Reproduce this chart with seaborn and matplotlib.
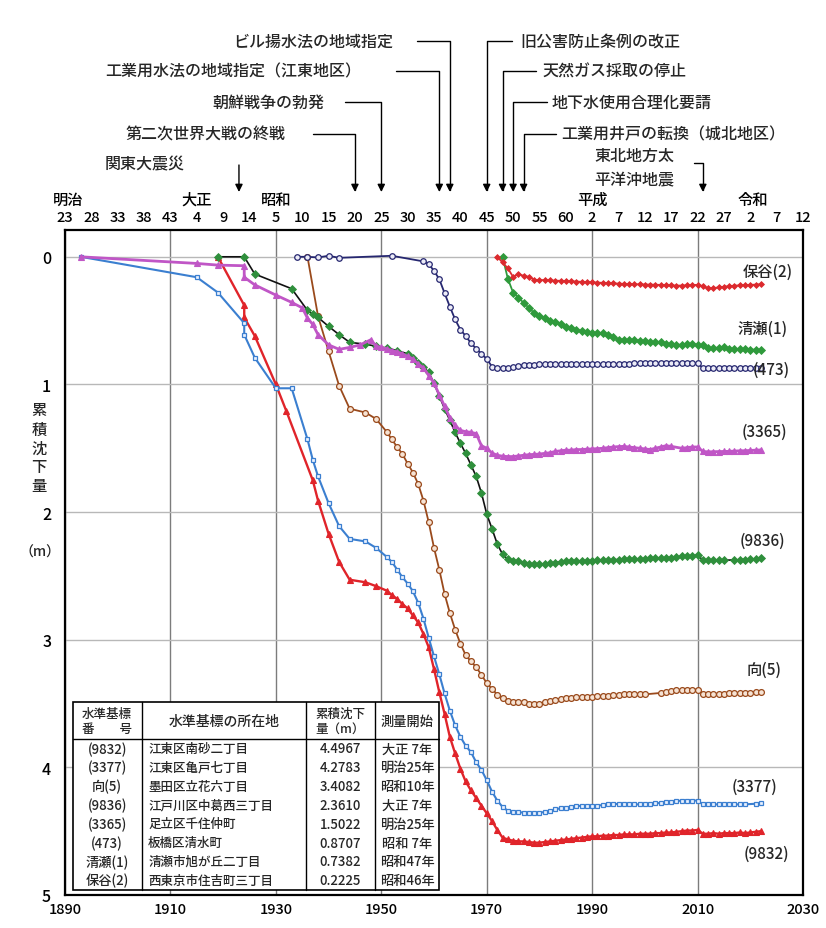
import matplotlib
matplotlib.use('Agg')
import matplotlib.pyplot as plt
import matplotlib.transforms as mtransforms
from matplotlib.lines import Line2D
from matplotlib.patches import Rectangle
import seaborn as sns

# ---------------- data ----------------
yr_9832 = [1919, 1924, 1924, 1926, 1930, 1932, 1937, 1938, 1940, 1942, 1944, 1947, 1949, 1951, 1952,
           1953, 1954, 1955, 1956, 1957, 1958, 1959, 1960, 1961, 1962, 1963, 1964, 1965, 1966, 1967,
           1968, 1969, 1970, 1971, 1972, 1973, 1974, 1975, 1976, 1977, 1978, 1979, 1980, 1981, 1982,
           1983, 1984, 1985, 1986, 1987, 1988, 1989, 1990, 1991, 1992, 1993, 1994, 1995, 1996, 1997,
           1998, 1999, 2000, 2001, 2002, 2003, 2004, 2005, 2006, 2007, 2008, 2009, 2010, 2011, 2012,
           2013, 2014, 2015, 2016, 2017, 2018, 2019, 2020, 2021, 2022]
val_9832 = [0.00, 0.38, 0.475, 0.62, 1.00, 1.21, 1.75, 1.91, 2.17, 2.39, 2.53, 2.55, 2.58, 2.615, 2.65,
            2.68, 2.72, 2.755, 2.81, 2.865, 2.955, 3.06, 3.23, 3.41, 3.58, 3.76, 3.89, 4.01, 4.11, 4.18,
            4.24, 4.30, 4.36, 4.42, 4.49, 4.55, 4.565, 4.575, 4.58, 4.58, 4.585, 4.59, 4.59, 4.585, 4.58,
            4.575, 4.57, 4.565, 4.56, 4.555, 4.55, 4.545, 4.54, 4.54, 4.535, 4.535, 4.53, 4.53, 4.525, 4.525,
            4.525, 4.52, 4.52, 4.52, 4.515, 4.515, 4.51, 4.51, 4.505, 4.50, 4.495, 4.495, 4.49, 4.52, 4.52,
            4.515, 4.52, 4.515, 4.515, 4.515, 4.51, 4.515, 4.51, 4.505, 4.50]

yr_3377 = [1893, 1915, 1919, 1924, 1924, 1926, 1930, 1933, 1936, 1937, 1938, 1940, 1942, 1944, 1947,
           1949, 1951, 1952, 1953, 1954, 1955, 1956, 1957, 1958, 1959, 1960, 1961, 1962, 1963, 1964,
           1965, 1966, 1967, 1968, 1969, 1970, 1971, 1972, 1973, 1974, 1975, 1976, 1977, 1978, 1979,
           1980, 1981, 1982, 1983, 1984, 1985, 1986, 1987, 1988, 1989, 1990, 1991, 1992, 1993, 1994,
           1995, 1996, 1997, 1998, 1999, 2000, 2001, 2002, 2003, 2004, 2005, 2006, 2007, 2008, 2009,
           2010, 2011, 2012, 2013, 2014, 2015, 2016, 2017, 2018, 2019, 2021, 2022]
val_3377 = [0.00, 0.16, 0.28, 0.52, 0.61, 0.79, 1.03, 1.03, 1.43, 1.59, 1.72, 1.93, 2.11, 2.21, 2.23,
            2.28, 2.35, 2.39, 2.45, 2.51, 2.56, 2.62, 2.71, 2.835, 2.985, 3.13, 3.27, 3.42, 3.555, 3.67,
            3.76, 3.83, 3.88, 3.96, 4.02, 4.10, 4.19, 4.26, 4.31, 4.34, 4.35, 4.35, 4.355, 4.36, 4.36,
            4.355, 4.35, 4.34, 4.33, 4.32, 4.315, 4.31, 4.305, 4.30, 4.30, 4.30, 4.30, 4.295, 4.29, 4.29,
            4.285, 4.285, 4.29, 4.29, 4.29, 4.29, 4.285, 4.28, 4.28, 4.275, 4.27, 4.265, 4.26, 4.26, 4.26,
            4.26, 4.29, 4.29, 4.29, 4.29, 4.29, 4.29, 4.29, 4.29, 4.29, 4.285, 4.278]

yr_m5 = [1936, 1938, 1940, 1942, 1944, 1947, 1949, 1951, 1952, 1953, 1954, 1955, 1956, 1957, 1958,
         1959, 1960, 1961, 1962, 1963, 1964, 1965, 1966, 1967, 1968, 1969, 1970, 1971, 1972, 1973,
         1974, 1975, 1976, 1977, 1978, 1979, 1980, 1981, 1982, 1983, 1984, 1985, 1986, 1987, 1988,
         1989, 1990, 1991, 1992, 1993, 1994, 1995, 1996, 1997, 1998, 1999, 2000, 2003, 2004, 2005,
         2006, 2007, 2008, 2009, 2010, 2011, 2012, 2013, 2014, 2015, 2016, 2017, 2018, 2019, 2020,
         2021, 2022]
val_m5 = [0.00, 0.465, 0.74, 1.01, 1.19, 1.22, 1.27, 1.37, 1.43, 1.49, 1.545, 1.62, 1.69, 1.78, 1.91,
          2.08, 2.28, 2.45, 2.64, 2.79, 2.92, 3.03, 3.12, 3.17, 3.215, 3.275, 3.34, 3.385, 3.43, 3.455,
          3.477, 3.485, 3.487, 3.49, 3.50, 3.503, 3.50, 3.49, 3.48, 3.47, 3.465, 3.46, 3.456, 3.452, 3.45,
          3.447, 3.445, 3.44, 3.44, 3.437, 3.433, 3.43, 3.428, 3.427, 3.427, 3.428, 3.428, 3.417, 3.41, 3.403,
          3.397, 3.393, 3.39, 3.39, 3.39, 3.423, 3.424, 3.424, 3.423, 3.423, 3.421, 3.42, 3.419, 3.418, 3.415,
          3.412, 3.41]

yr_9836 = [1919, 1924, 1926, 1933, 1936, 1937, 1938, 1940, 1942, 1944, 1947, 1949, 1951, 1953, 1955,
           1956, 1957, 1958, 1959, 1960, 1961, 1962, 1963, 1964, 1965, 1966, 1967, 1968, 1969, 1970,
           1971, 1972, 1973, 1974, 1975, 1976, 1977, 1978, 1979, 1980, 1981, 1982, 1983, 1984, 1985,
           1986, 1987, 1988, 1989, 1990, 1991, 1992, 1993, 1994, 1995, 1996, 1997, 1998, 1999, 2000,
           2001, 2002, 2003, 2004, 2005, 2006, 2007, 2008, 2009, 2010, 2011, 2012, 2013, 2014, 2015,
           2017, 2018, 2019, 2020, 2021, 2022]
val_9836 = [0.00, 0.00, 0.135, 0.25, 0.42, 0.45, 0.475, 0.545, 0.61, 0.67, 0.685, 0.70, 0.715, 0.735, 0.76,
            0.79, 0.83, 0.865, 0.905, 0.99, 1.09, 1.19, 1.28, 1.375, 1.46, 1.54, 1.63, 1.72, 1.85, 2.015,
            2.13, 2.25, 2.33, 2.37, 2.38, 2.385, 2.395, 2.405, 2.41, 2.41, 2.405, 2.40, 2.395, 2.39, 2.387,
            2.385, 2.385, 2.383, 2.38, 2.38, 2.378, 2.377, 2.375, 2.374, 2.372, 2.37, 2.37, 2.368, 2.366, 2.365,
            2.363, 2.362, 2.36, 2.358, 2.356, 2.352, 2.347, 2.344, 2.342, 2.338, 2.375, 2.378, 2.377, 2.377, 2.377,
            2.375, 2.373, 2.372, 2.37, 2.368, 2.36]

yr_3365 = [1893, 1915, 1919, 1924, 1924, 1926, 1930, 1933, 1935, 1936, 1937, 1938, 1940, 1942, 1944,
           1946, 1948, 1949, 1950, 1951, 1952, 1953, 1954, 1955, 1956, 1957, 1958, 1959, 1960, 1961,
           1962, 1963, 1964, 1965, 1966, 1967, 1968, 1969, 1970, 1971, 1972, 1973, 1974, 1975, 1976,
           1977, 1978, 1979, 1980, 1981, 1982, 1983, 1984, 1985, 1986, 1987, 1988, 1989, 1990, 1991,
           1992, 1993, 1994, 1995, 1996, 1997, 1998, 1999, 2000, 2001, 2002, 2003, 2004, 2005, 2007,
           2008, 2009, 2010, 2011, 2012, 2013, 2014, 2015, 2016, 2017, 2018, 2019, 2020, 2021, 2022]
val_3365 = [0.00, 0.052, 0.065, 0.07, 0.16, 0.22, 0.30, 0.357, 0.40, 0.48, 0.53, 0.61, 0.69, 0.725, 0.71,
            0.69, 0.65, 0.70, 0.71, 0.72, 0.735, 0.745, 0.76, 0.78, 0.80, 0.84, 0.87, 0.93, 0.99, 1.08,
            1.17, 1.26, 1.32, 1.36, 1.37, 1.375, 1.385, 1.48, 1.50, 1.537, 1.555, 1.562, 1.565, 1.565, 1.56,
            1.555, 1.55, 1.548, 1.545, 1.54, 1.535, 1.525, 1.52, 1.515, 1.515, 1.51, 1.51, 1.507, 1.505, 1.503,
            1.50, 1.495, 1.49, 1.487, 1.485, 1.49, 1.495, 1.50, 1.505, 1.51, 1.50, 1.49, 1.48, 1.485, 1.50,
            1.495, 1.49, 1.49, 1.525, 1.528, 1.527, 1.526, 1.525, 1.524, 1.522, 1.52, 1.519, 1.517, 1.515, 1.513]

yr_473 = [1934, 1936, 1938, 1940, 1942, 1952, 1958, 1959, 1960, 1961, 1962, 1963, 1964, 1965, 1966,
          1967, 1968, 1969, 1970, 1971, 1972, 1973, 1974, 1975, 1976, 1977, 1978, 1979, 1980, 1981,
          1982, 1983, 1984, 1985, 1986, 1987, 1988, 1989, 1990, 1991, 1992, 1993, 1994, 1995, 1996,
          1997, 1998, 1999, 2000, 2001, 2002, 2003, 2004, 2005, 2006, 2007, 2008, 2009, 2010, 2011,
          2012, 2013, 2014, 2015, 2016, 2017, 2018, 2019, 2020, 2021, 2022]
val_473 = [0.00, 0.00, 0.005, -0.008, 0.008, -0.008, 0.036, 0.057, 0.11, 0.175, 0.284, 0.39, 0.49, 0.57, 0.62,
           0.676, 0.72, 0.76, 0.80, 0.86, 0.874, 0.874, 0.87, 0.86, 0.855, 0.85, 0.847, 0.845, 0.843, 0.842,
           0.84, 0.84, 0.84, 0.84, 0.84, 0.84, 0.84, 0.84, 0.84, 0.84, 0.84, 0.84, 0.84, 0.84, 0.838,
           0.836, 0.834, 0.832, 0.832, 0.833, 0.834, 0.834, 0.833, 0.832, 0.832, 0.833, 0.834, 0.835, 0.835, 0.87,
           0.872, 0.873, 0.873, 0.874, 0.874, 0.874, 0.875, 0.875, 0.875, 0.875, 0.875]

yr_k1 = [1973, 1974, 1975, 1976, 1977, 1978, 1979, 1980, 1981, 1982, 1983, 1984, 1985, 1986, 1987,
         1988, 1989, 1990, 1991, 1992, 1993, 1994, 1995, 1996, 1997, 1998, 1999, 2000, 2001, 2002,
         2003, 2004, 2005, 2006, 2007, 2008, 2009, 2010, 2011, 2012, 2013, 2014, 2015, 2016, 2017,
         2018, 2019, 2020, 2021, 2022]
val_k1 = [0.00, 0.17, 0.28, 0.32, 0.36, 0.40, 0.44, 0.467, 0.48, 0.50, 0.51, 0.525, 0.55, 0.56, 0.57,
          0.585, 0.59, 0.595, 0.597, 0.60, 0.615, 0.625, 0.65, 0.65, 0.652, 0.655, 0.657, 0.66, 0.665, 0.668,
          0.67, 0.68, 0.685, 0.69, 0.688, 0.686, 0.684, 0.688, 0.692, 0.715, 0.715, 0.712, 0.71, 0.72, 0.725,
          0.722, 0.725, 0.727, 0.728, 0.73]

yr_h2 = [1972, 1973, 1974, 1975, 1976, 1977, 1978, 1979, 1980, 1981, 1982, 1983, 1984, 1985, 1986,
         1987, 1988, 1989, 1990, 1991, 1992, 1993, 1994, 1995, 1996, 1997, 1998, 1999, 2000, 2001,
         2002, 2003, 2004, 2005, 2006, 2007, 2008, 2009, 2010, 2011, 2012, 2013, 2014, 2015, 2016,
         2017, 2018, 2019, 2020, 2021, 2022]
val_h2 = [0.00, 0.044, 0.09, 0.157, 0.135, 0.149, 0.157, 0.18, 0.182, 0.183, 0.185, 0.187, 0.188, 0.19, 0.192,
          0.194, 0.196, 0.198, 0.20, 0.202, 0.204, 0.206, 0.208, 0.21, 0.212, 0.214, 0.215, 0.216, 0.217, 0.218,
          0.219, 0.22, 0.222, 0.224, 0.226, 0.225, 0.223, 0.221, 0.22, 0.23, 0.248, 0.245, 0.24, 0.235, 0.23,
          0.226, 0.224, 0.222, 0.22, 0.218, 0.215]

series_names = ['(9832)', '(3377)', '向(5)', '(9836)', '(3365)', '(473)', '清瀬(1)', '保谷(2)']
series_years = [yr_9832, yr_3377, yr_m5, yr_9836, yr_3365, yr_473, yr_k1, yr_h2]
series_vals = [val_9832, val_3377, val_m5, val_9836, val_3365, val_473, val_k1, val_h2]

# top era axis
top_years = [1890, 1895, 1900, 1905, 1910, 1915, 1920, 1925, 1930, 1935, 1940, 1945, 1950, 1955, 1960,
             1965, 1970, 1975, 1980, 1985, 1990, 1995, 2000, 2005, 2010, 2015, 2020, 2025, 2030]
top_labels = ['23', '28', '33', '38', '43', '4', '9', '14', '5', '10', '15', '20', '25', '30', '35',
              '40', '45', '50', '55', '60', '2', '7', '12', '17', '22', '27', '2', '7', '12']
era_names = ['明治', '大正', '昭和', '平成', '令和']
era_years = [1890.5, 1915, 1930, 1990, 2020.5]

# events
ev_left_labels = ['ビル揚水法の地域指定', '工業用水法の地域指定（江東地区）', '朝鮮戦争の勃発', '第二次世界大戦の終戦']
ev_left_years = [1963, 1961, 1950, 1945]
ev_right_labels = ['旧公害防止条例の改正', '天然ガス採取の停止', '地下水使用合理化要請', '工業用井戸の転換（城北地区）']
ev_right_years = [1970, 1973, 1975, 1977]
quake1_label, quake1_year = '関東大震災', 1923
quake2_label, quake2_year = '東北地方太\n平洋沖地震', 2011

# table
tbl_head = ['水準基標\n番　　号', '水準基標の所在地', '累積沈下\n量（m）', '測量開始']
tbl_ids = ['(9832)', '(3377)', '向(5)', '(9836)', '(3365)', '(473)', '清瀬(1)', '保谷(2)']
tbl_loc = ['江東区南砂二丁目', '江東区亀戸七丁目', '墨田区立花六丁目', '江戸川区中葛西三丁目',
           '足立区千住仲町', '板橋区清水町', '清瀬市旭が丘二丁目', '西東京市住吉町三丁目']
tbl_amt = ['4.4967', '4.2783', '3.4082', '2.3610', '1.5022', '0.8707', '0.7382', '0.2225']
tbl_start = ['大正 7年', '明治25年', '昭和10年', '大正 7年', '明治25年', '昭和 7年', '昭和47年', '昭和46年']

# ---------------- styling ----------------
sns.set_theme(style='white')
plt.rcParams['font.family'] = ['Noto Sans CJK JP', 'DejaVu Sans']
plt.rcParams['font.weight'] = 'medium'

W, H = 826, 929
fig = plt.figure(figsize=(W / 100, H / 100), dpi=100)
fig.patch.set_facecolor('white')


def fx(px):
    return px / W


def fy(py):
    return 1 - py / H


ax = fig.add_axes([fx(65), fy(896), fx(803) - fx(65), fy(231) - fy(896)])
ax.set_facecolor('white')

styles = [
    dict(color='#e0242a', marker='^', markersize=4.6, markerfacecolor='#e0242a', markeredgecolor='#e0242a', linewidth=1.7, mew=0.8),
    dict(color='#3b7fd0', marker='s', markersize=3.4, markerfacecolor='#eaf2ff', markeredgecolor='#3b7fd0', linewidth=1.5, mew=0.9),
    dict(color='#9a4a1c', marker='o', markersize=4.2, markerfacecolor='#f6e3d4', markeredgecolor='#9a4a1c', linewidth=1.3, mew=0.9),
    dict(color='#111111', marker='D', markersize=3.6, markerfacecolor='#2f8f3c', markeredgecolor='#2f8f3c', linewidth=1.2, mew=0.6),
    dict(color='#c056c6', marker='^', markersize=5.0, markerfacecolor='#c056c6', markeredgecolor='#c056c6', linewidth=2.0, mew=0.8),
    dict(color='#262770', marker='o', markersize=4.0, markerfacecolor='#ececf7', markeredgecolor='#262770', linewidth=1.3, mew=0.9),
    dict(color='#2f9a3c', marker='D', markersize=3.6, markerfacecolor='#2f9a3c', markeredgecolor='#2f9a3c', linewidth=1.3, mew=0.6),
    dict(color='#dc2a2e', marker='D', markersize=3.0, markerfacecolor='#dc2a2e', markeredgecolor='#dc2a2e', linewidth=1.3, mew=0.6),
]

for yrs, vals, st in zip(series_years, series_vals, styles):
    sns.lineplot(x=yrs, y=vals, ax=ax, estimator=None, sort=False, zorder=3, **st)

ax.set_xlim(1890, 2030)
ax.set_ylim(5, -0.21)
ax.set_xticks(list(range(1890, 2031, 20)))
ax.set_yticks([0, 1, 2, 3, 4, 5])
ax.set_xlabel('')
ax.set_ylabel('')
ax.set_axisbelow(True)
ax.xaxis.grid(True, color='#7c7c7c', linewidth=1.0)
ax.yaxis.grid(True, color='#b8b8b8', linewidth=1.0)
for s in ax.spines.values():
    s.set_color('black')
    s.set_linewidth(1.6)
ax.tick_params(axis='x', length=0, pad=5, labelsize=10.5, colors='black')
ax.tick_params(axis='y', length=0, pad=10, labelsize=11.5, colors='black')

# top era numbers
sec = ax.secondary_xaxis('top')
sec.set_xticks(top_years, labels=top_labels)
sec.tick_params(length=0, pad=4, labelsize=10.5, colors='black')
sec.spines['top'].set_visible(False)

blend = mtransforms.blended_transform_factory(ax.transData, fig.transFigure)
for name, yr in zip(era_names, era_years):
    ax.text(yr, fy(200), name, transform=blend, ha='center', va='center', fontsize=11, color='black')

# y label
for i, ch in enumerate('累積沈下量'):
    fig.text(fx(39), fy(411 + i * 19), ch, ha='center', va='center', fontsize=11)
fig.text(fx(40), fy(553), '（m）', ha='center', va='center', fontsize=10)

# series labels
lab_pos = [(744, 854), (732, 787), (747, 670), (740, 541), (742, 432), (753, 370), (737, 329), (743, 272)]
for name, (lx, ly) in zip(series_names, lab_pos):
    fig.text(fx(lx), fy(ly), name, ha='left', va='center', fontsize=11)

# events
ap = dict(arrowstyle='-|>', color='black', lw=1.0, shrinkA=0, shrinkB=0, mutation_scale=11,
          connectionstyle='angle,angleA=0,angleB=90,rad=0')
tip_y = fy(193)
left_pos = [(393, 417, 42), (361, 396, 72), (324, 345, 103), (286, 312.6, 135)]
for lab, yr, (tx, lx0, ty) in zip(ev_left_labels, ev_left_years, left_pos):
    fig.text(fx(tx), fy(ty), lab, ha='right', va='center', fontsize=11.5)
    ax.annotate('', xy=(yr, tip_y), xycoords=('data', 'figure fraction'),
                xytext=(fx(lx0), fy(ty)), textcoords='figure fraction', arrowprops=ap, annotation_clip=False)
right_pos = [(520, 512, 42), (542, 536, 72), (552, 546.5, 103), (561, 556, 135)]
for lab, yr, (tx, lx1, ty) in zip(ev_right_labels, ev_right_years, right_pos):
    fig.text(fx(tx), fy(ty), lab, ha='left', va='center', fontsize=11.5)
    ax.annotate('', xy=(yr, tip_y), xycoords=('data', 'figure fraction'),
                xytext=(fx(lx1), fy(ty)), textcoords='figure fraction', arrowprops=ap, annotation_clip=False)

fig.text(fx(145), fy(165), quake1_label, ha='center', va='center', fontsize=11.5)
ap2 = dict(arrowstyle='-|>', color='black', lw=1.0, shrinkA=0, shrinkB=0, mutation_scale=11)
ax.annotate('', xy=(quake1_year, tip_y), xycoords=('data', 'figure fraction'),
            xytext=(quake1_year, fy(166)), textcoords=('data', 'figure fraction'), arrowprops=ap2,
            annotation_clip=False)
fig.text(fx(634), fy(168), quake2_label, ha='center', va='center', fontsize=11.5, linespacing=1.5)
ax.annotate('', xy=(quake2_year, tip_y), xycoords=('data', 'figure fraction'),
            xytext=(fx(693.6), fy(164)), textcoords='figure fraction', arrowprops=ap, annotation_clip=False)

# table
cols = [72.7, 141.7, 305.7, 375, 439.3]
t_top, t_head, t_bot = 703.3, 740, 890.7
fig.add_artist(Rectangle((fx(cols[0]), fy(t_bot)), fx(cols[-1]) - fx(cols[0]), fy(t_top) - fy(t_bot),
                         transform=fig.transFigure, facecolor='white', edgecolor='black', linewidth=1.2, zorder=5))
for cx in cols[1:-1]:
    fig.add_artist(Line2D([fx(cx), fx(cx)], [fy(t_top), fy(t_bot)], transform=fig.transFigure,
                          color='black', linewidth=1.0, zorder=6))
fig.add_artist(Line2D([fx(cols[0]), fx(cols[-1])], [fy(t_head), fy(t_head)], transform=fig.transFigure,
                      color='black', linewidth=1.0, zorder=6))
centers = [(cols[i] + cols[i + 1]) / 2 for i in range(4)]
head_sizes = [9, 10, 9, 9.5]
for i, h in enumerate(tbl_head):
    fig.text(fx(centers[i]), fy((t_top + t_head) / 2), h, ha='center', va='center', fontsize=head_sizes[i],
             linespacing=1.2, zorder=7)
row_h = (t_bot - t_head) / len(tbl_ids)
for r in range(len(tbl_ids)):
    ry = fy(t_head + row_h * (r + 0.5))
    fig.text(fx(centers[0]), ry, tbl_ids[r], ha='center', va='center', fontsize=9.5, zorder=7)
    fig.text(fx(cols[1] + 6.5), ry, tbl_loc[r], ha='left', va='center', fontsize=9, zorder=7)
    fig.text(fx(centers[2]), ry, tbl_amt[r], ha='center', va='center', fontsize=9.5, zorder=7)
    fig.text(fx(centers[3]), ry, tbl_start[r], ha='center', va='center', fontsize=9.5, zorder=7)

fig.savefig('out.png', dpi=100, facecolor='white')
